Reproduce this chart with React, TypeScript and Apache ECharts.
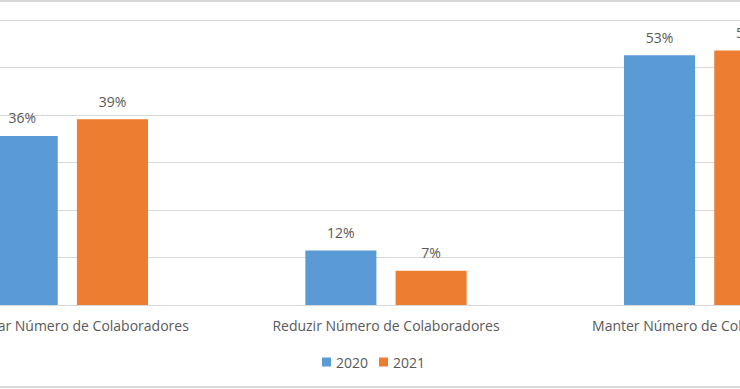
import React, { useEffect, useRef } from "react";
import * as echarts from "echarts";

const categories = [
  "Aumentar Número de Colaboradores",
  "Reduzir Número de Colaboradores",
  "Manter Número de Colaboradores",
];
const seriesNames = ["2020", "2021"];
const values2020 = [35.6, 11.5, 52.6];
const values2021 = [39.1, 7.2, 53.6];
const yTicks = { min: 0, max: 60, interval: 10 };

const FONT = "'Open Sans', 'Noto Sans', sans-serif";
const TEXT = "#595959";
const GRID = "#D9D9D9";
const OFFSET = 92; // chart area extends beyond the visible window on the left
const FULL_W = 956;

export default function App() {
  const ref = useRef<HTMLDivElement>(null);
  useEffect(() => {
    if (!ref.current) return;
    const chart = echarts.init(ref.current, undefined, { renderer: "svg" });
    const label = {
      show: true,
      position: "top" as const,
      distance: 11,
      color: TEXT,
      fontFamily: FONT,
      fontSize: 14,
      formatter: (p: any) => Math.round(p.value) + "%",
    };
    chart.setOption({
      animation: false,
      backgroundColor: "#ffffff",
      textStyle: { fontFamily: FONT },
      grid: { left: 0, right: 0, top: 20, bottom: 84, containLabel: false },
      legend: {
        bottom: 15,
        left: OFFSET + 317,
        itemWidth: 9,
        itemHeight: 9,
        itemGap: 11,
        icon: "rect",
        textStyle: { color: TEXT, fontFamily: FONT, fontSize: 14 },
        data: seriesNames,
      },
      xAxis: {
        type: "category",
        data: categories,
        axisLine: { lineStyle: { color: GRID } },
        axisTick: { show: false },
        axisLabel: { color: TEXT, fontFamily: FONT, fontSize: 14, margin: 13, interval: 0 },
      },
      yAxis: {
        type: "value",
        min: yTicks.min,
        max: yTicks.max,
        interval: yTicks.interval,
        axisLabel: { show: false },
        axisLine: { show: false },
        axisTick: { show: false },
        splitLine: { lineStyle: { color: GRID } },
      },
      series: [
        {
          name: seriesNames[0],
          type: "bar",
          data: values2020,
          barWidth: "22.3%",
          barGap: "27%",
          itemStyle: { color: "#5B9BD5" },
          label,
        },
        {
          name: seriesNames[1],
          type: "bar",
          data: values2021,
          barWidth: "22.3%",
          barGap: "27%",
          itemStyle: { color: "#ED7D31" },
          label,
        },
      ],
      graphic: [
        { type: "line", shape: { x1: 0, y1: 1, x2: FULL_W, y2: 1 }, style: { stroke: GRID, lineWidth: 2 } },
        { type: "line", shape: { x1: 0, y1: 387, x2: FULL_W, y2: 387 }, style: { stroke: GRID, lineWidth: 2 } },
      ],
    });
    return () => chart.dispose();
  }, []);
  return (
    <div
      ref={ref}
      style={{ position: "fixed", left: -OFFSET, top: 0, width: FULL_W, height: 389 }}
    />
  );
}
